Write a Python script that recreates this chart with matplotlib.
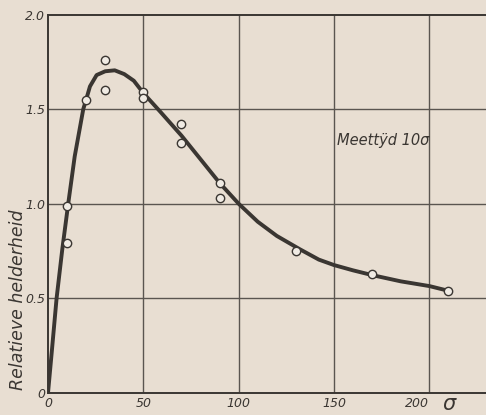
import matplotlib
matplotlib.use("Agg")
import matplotlib.pyplot as plt

# measured points (time in sigma, relative brightness)
meas_x = [10, 10, 20, 30, 30, 50, 50, 70, 70, 90, 90, 130, 170, 210]
meas_y = [0.79, 0.99, 1.55, 1.76, 1.60, 1.59, 1.56, 1.42, 1.32, 1.11, 1.03, 0.75, 0.63, 0.54]

# drawn smooth curve
curve_x = [0, 2, 4.5, 7.5, 10.6, 14, 18.5, 20, 22, 25.5, 30, 35, 40, 45, 50, 59, 70, 80,
           90, 100, 110, 120, 132, 142, 150, 160, 170, 185, 200, 210]
curve_y = [0, 0.22, 0.5, 0.76, 1.0, 1.25, 1.5, 1.55, 1.62, 1.68, 1.70, 1.705, 1.685, 1.65,
           1.585, 1.485, 1.36, 1.235, 1.11, 1.0, 0.905, 0.83, 0.76, 0.705, 0.676, 0.648,
           0.623, 0.59, 0.565, 0.54]

xticks = [0, 50, 100, 150, 200]
xticklabels = ["0", "50", "100", "150", "200"]
yticks = [0, 0.5, 1.0, 1.5, 2.0]
yticklabels = ["0", "0.5", "1.0", "1.5", "2.0"]

bg = "#e8ded2"
ink = "#3a3632"
plt.rcParams['font.family'] = ['DejaVu Sans']

fig = plt.figure(figsize=(4.86, 4.15), dpi=100, facecolor=bg)
ax = fig.add_axes([48/486, 1-393/415, 1-48/486, (393-14.5)/415])
ax.set_facecolor(bg)
ax.set_xlim(0, 229.7)
ax.set_ylim(0, 2.0)

for v in xticks[1:]:
    ax.axvline(v, color="#5a5550", lw=1.0, zorder=1)
for v in yticks[1:-1]:
    ax.axhline(v, color="#5a5550", lw=1.0, zorder=1)

ax.plot(curve_x, curve_y, color=ink, lw=2.8, solid_capstyle="round",
        solid_joinstyle="round", zorder=3)
ax.plot(meas_x, meas_y, linestyle="none", marker="o", ms=6, mfc="#f0ebe4",
        mec=ink, mew=1.0, zorder=4)

for s in ["left", "bottom", "top"]:
    ax.spines[s].set_color(ink)
    ax.spines[s].set_linewidth(1.4)
ax.spines["right"].set_visible(False)

ax.set_xticks(xticks)
ax.set_xticklabels(xticklabels, fontstyle="italic", fontsize=9, color=ink)
ax.set_yticks(yticks)
ax.set_yticklabels(yticklabels, fontstyle="italic", fontsize=9, color=ink)
ax.tick_params(axis="x", length=0, pad=3)
ax.tick_params(axis="y", length=0, pad=2)
ax.get_xticklabels()[-1].set_ha("right")

ax.text(207, -0.058, "σ", fontsize=15, color=ink, fontstyle="italic",
        ha="left", va="center", clip_on=False)
ax.text(176, 1.335, "Meettÿd 10σ", fontsize=10.5, fontstyle="italic", color=ink,
        ha="center", va="center")
fig.text(18/486, 1-300/415, "Relatieve helderheid", rotation=90, fontsize=12.5,
         fontstyle="italic", color=ink, ha="center", va="center")

fig.savefig("out.png", dpi=100, facecolor=bg)
